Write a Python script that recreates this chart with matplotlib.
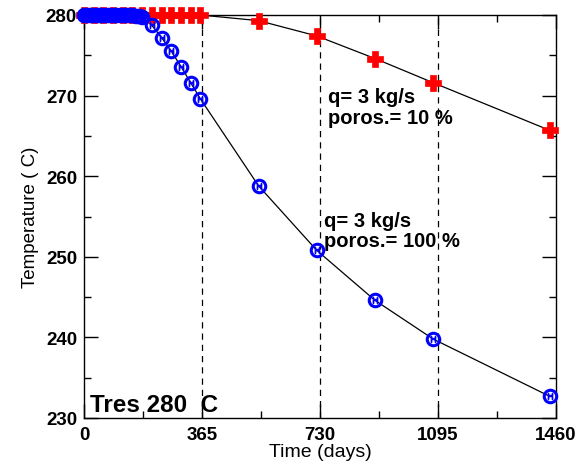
import matplotlib
matplotlib.use("Agg")
import matplotlib.pyplot as plt
from matplotlib.ticker import MultipleLocator, FixedLocator

plt.rcParams["font.family"] = ["Liberation Sans", "DejaVu Sans"]

# porosity 10 % (red crosses)
red_days = [0, 30, 60, 90, 120, 150, 180, 210, 240, 270, 300, 330, 360,
            540, 720, 900, 1080, 1440]
red_temp = [280.0, 280.0, 280.0, 280.0, 280.0, 280.0, 280.0, 280.0, 280.0,
            280.0, 280.0, 280.0, 280.0,
            279.3, 277.4, 274.6, 271.6, 265.7]

# porosity 100 % (blue circles)
blue_days = [0, 10, 20, 30, 40, 50, 60, 70, 80, 90, 100, 110, 120, 130,
             140, 150, 160, 170, 180, 210, 240, 270, 300, 330, 360,
             540, 720, 900, 1080, 1440]
blue_temp = [280.0, 280.0, 280.0, 280.0, 280.0, 280.0, 280.0, 280.0, 280.0,
             280.0, 280.0, 280.0, 280.0, 280.0, 279.98, 279.95, 279.9, 279.85,
             279.7, 278.7, 277.2, 275.5, 273.6, 271.6, 269.6,
             258.8, 250.8, 244.6, 239.8, 232.7]

year_marks = [365, 730, 1095]
x_ticks = [0, 365, 730, 1095, 1460]

fig = plt.figure(figsize=(5.88, 4.64), dpi=100)
ax = fig.add_axes([84 / 588, 1 - 419 / 464, 472 / 588, 403 / 464])

# year separators
for d in year_marks:
    ax.plot([d, d], [230, 280], color="k", lw=0.9, ls=(0, (5, 4)), zorder=1)

# connecting lines
ax.plot(red_days, red_temp, color="k", lw=0.9, zorder=2, clip_on=False)
ax.plot(blue_days, blue_temp, color="k", lw=0.9, zorder=2, clip_on=False)

# markers
ax.plot(red_days, red_temp, ls="none", marker="P", ms=11, color="#ff0000",
        mec="#ff0000", mew=0.5, zorder=3, clip_on=False)
ax.plot(blue_days, blue_temp, ls="none", marker="o", ms=9, mfc="none",
        mec="#0000ff", mew=2.2, zorder=4, clip_on=False)
ax.plot(blue_days, blue_temp, ls="none", marker="$\\mathrm{H}$", ms=4.5,
        color="#0000ff", zorder=4, clip_on=False)

ax.set_xlim(0, 1460)
ax.set_ylim(230, 280)

ax.xaxis.set_major_locator(FixedLocator(x_ticks))
ax.xaxis.set_minor_locator(MultipleLocator(182.5))
ax.yaxis.set_major_locator(MultipleLocator(10))
ax.yaxis.set_minor_locator(MultipleLocator(5))

ax.tick_params(which="both", direction="in", top=True, right=True, width=1.0)
ax.tick_params(which="major", length=10)
ax.tick_params(which="minor", length=5)
ax.tick_params(axis="x", which="major", pad=6)
ax.tick_params(axis="y", which="major", pad=5)
for lab in ax.get_xticklabels() + ax.get_yticklabels():
    lab.set_fontweight("bold")
    lab.set_fontsize(13.5)

for s in ax.spines.values():
    s.set_linewidth(1.0)

ax.set_xlabel("Time (days)", fontsize=14, labelpad=0)
ax.set_ylabel("Temperature ( C)", fontsize=13.5, labelpad=5)

# annotations
ax.text(755, 269.2, "q= 3 kg/s", fontsize=14.5, fontweight="bold", va="baseline")
ax.text(755, 266.6, "poros.= 10 %", fontsize=14.5, fontweight="bold", va="baseline")
ax.text(742, 253.8, "q= 3 kg/s", fontsize=14.5, fontweight="bold", va="baseline")
ax.text(742, 251.3, "poros.= 100 %", fontsize=14.5, fontweight="bold", va="baseline")
ax.text(18, 230.9, "Tres 280  C", fontsize=17.5, fontweight="bold", va="baseline")

fig.savefig("out.png", dpi=100)
